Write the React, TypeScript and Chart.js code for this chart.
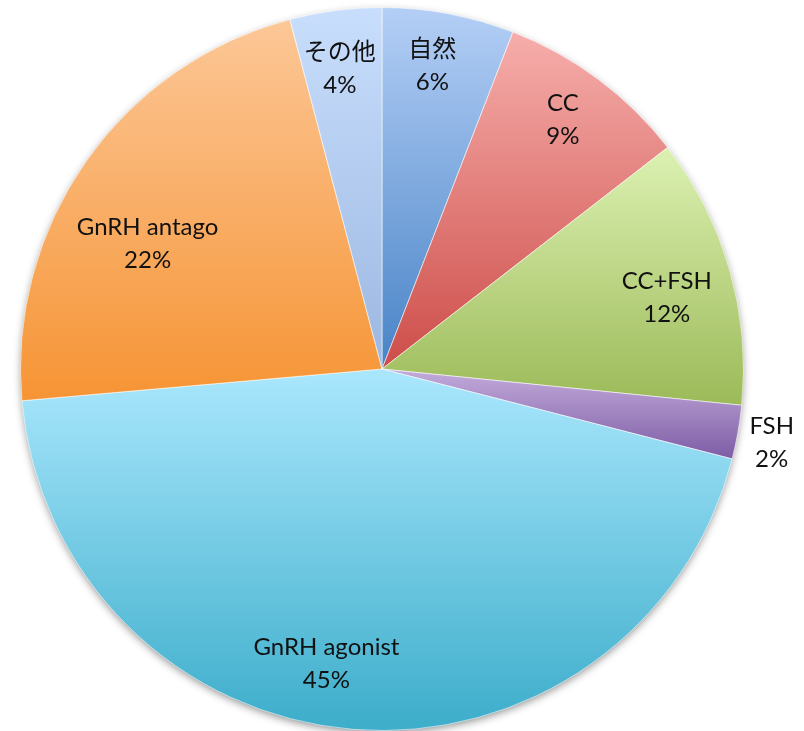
import React, { useEffect, useRef } from "react";
import { Chart, registerables } from "chart.js";

Chart.register(...registerables);

const categories = ["自然", "CC", "CC+FSH", "FSH", "GnRH agonist", "GnRH antago", "その他"];
const values = [5.9, 8.6, 12.1, 2.4, 44.6, 22.3, 4.1];

const topColors = ["#b4cff6", "#f6aeab", "#dcf1b2", "#c3abdb", "#aae7fd", "#fcc797", "#c8defc"];
const bottomColors = ["#4883c6", "#cd4d49", "#9cba58", "#7d5ca5", "#3cadca", "#f69434", "#9cb7e1"];

// label placement (fraction of radius, angle shift in degrees)
const labelRadius = [0.85, 0.853, 0.812, 1.097, 0.83, 0.735, 0.84];
const labelShift = [-1.2, -0.8, 2, 0.6, 6, -7, -0.6];

function yRange(cy: number, r: number, s: number, e: number) {
  let minY = cy;
  let maxY = cy;
  for (const a of [s, e]) {
    const y = cy + r * Math.sin(a);
    minY = Math.min(minY, y);
    maxY = Math.max(maxY, y);
  }
  const contains = (t: number) => {
    for (let k = -3; k <= 3; k++) {
      const v = t + 2 * Math.PI * k;
      if (v >= s && v <= e) return true;
    }
    return false;
  };
  if (contains(-Math.PI / 2)) minY = cy - r;
  if (contains(Math.PI / 2)) maxY = cy + r;
  return [minY, maxY];
}

const piePlugin = {
  id: "piePlugin",
  beforeDatasetsDraw(chart: any) {
    const meta = chart.getDatasetMeta(0);
    const ctx = chart.ctx;
    if (!meta.data.length) return;
    const first = meta.data[0];
    const { x, y, outerRadius } = first.getProps(["x", "y", "outerRadius"], true);
    ctx.save();
    ctx.shadowColor = "rgba(0,0,0,0.45)";
    ctx.shadowBlur = 9;
    ctx.shadowOffsetY = 3;
    ctx.fillStyle = "#ffffff";
    ctx.beginPath();
    ctx.arc(x, y, outerRadius - 1, 0, Math.PI * 2);
    ctx.fill();
    ctx.restore();
    meta.data.forEach((arc: any, i: number) => {
      const p = arc.getProps(["x", "y", "startAngle", "endAngle", "outerRadius"], true);
      const [y0, y1] = yRange(p.y, p.outerRadius, p.startAngle, p.endAngle);
      const g = ctx.createLinearGradient(0, y0, 0, y1);
      g.addColorStop(0, topColors[i]);
      g.addColorStop(1, bottomColors[i]);
      arc.options.backgroundColor = g;
    });
  },
  afterDatasetsDraw(chart: any) {
    const meta = chart.getDatasetMeta(0);
    const ctx = chart.ctx;
    const total = values.reduce((a, b) => a + b, 0);
    ctx.save();
    ctx.fillStyle = "#111111";
    ctx.textAlign = "center";
    ctx.textBaseline = "middle";
    ctx.font = "24px Lato, 'Noto Sans CJK JP', sans-serif";
    meta.data.forEach((arc: any, i: number) => {
      const p = arc.getProps(["x", "y", "startAngle", "endAngle", "outerRadius"], true);
      const mid = (p.startAngle + p.endAngle) / 2 + (labelShift[i] * Math.PI) / 180;
      const r = p.outerRadius * labelRadius[i];
      const lx = p.x + r * Math.cos(mid);
      const ly = p.y + r * Math.sin(mid);
      const pct = Math.round((values[i] / total) * 100) + "%";
      ctx.fillText(categories[i], lx, ly - 16.5);
      ctx.fillText(pct, lx, ly + 16.5);
    });
    ctx.restore();
  },
};

export default function App() {
  const ref = useRef<HTMLCanvasElement | null>(null);
  useEffect(() => {
    if (!ref.current) return;
    const chart = new Chart(ref.current, {
      type: "pie",
      data: {
        labels: categories,
        datasets: [
          {
            data: values,
            backgroundColor: bottomColors,
            borderColor: "rgba(255,255,255,0.55)",
            borderWidth: 1,
          },
        ],
      },
      options: {
        animation: false,
        responsive: true,
        maintainAspectRatio: false,
        layout: { padding: { left: 20, right: 60, top: 7, bottom: 0 } },
        plugins: { legend: { display: false }, tooltip: { enabled: false } },
      },
      plugins: [piePlugin],
    });
    return () => chart.destroy();
  }, []);
  return (
    <div style={{ position: "absolute", left: 0, top: 0, width: 804, height: 731, background: "#fff" }}>
      <canvas ref={ref} />
    </div>
  );
}
